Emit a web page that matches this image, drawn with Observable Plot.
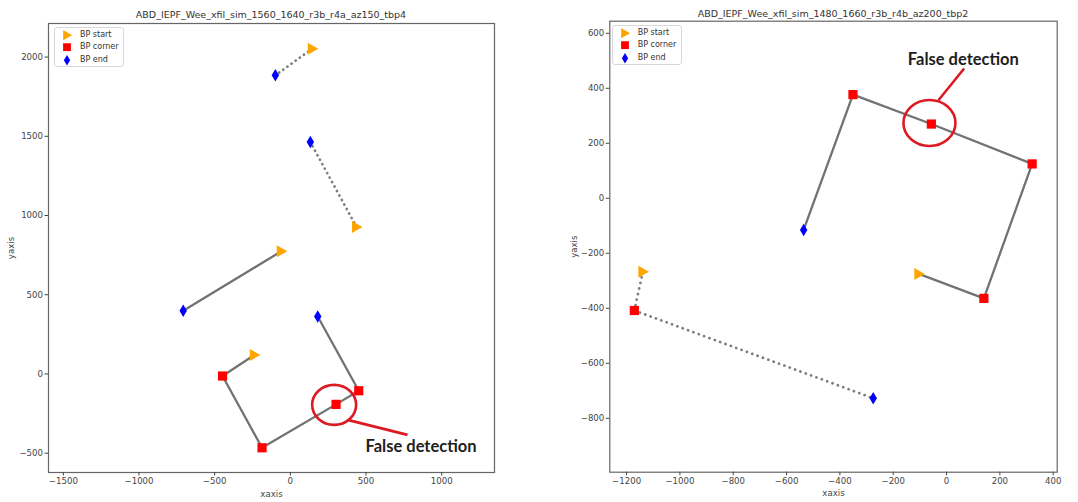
<!DOCTYPE html>
<html>
<head>
<meta charset="utf-8">
<script src="https://cdn.jsdelivr.net/npm/d3@7"></script>
<script src="https://cdn.jsdelivr.net/npm/@observablehq/plot@0.6"></script>
<style>
  body { margin: 0; background: #fff; font-family: "DejaVu Sans", sans-serif; }
  #wrap { position: relative; width: 1078px; height: 502px; overflow: hidden; background: #fff; }
  .panel { position: absolute; top: 0; height: 502px; }
  .title { position: absolute; text-align: center; font-size: 9.5px; color: #333; white-space: nowrap; line-height: 12px; }
  .plot { position: absolute; left: 0; }
  .legend { position: absolute; box-sizing: border-box; border: 1px solid #d8d8d8; border-radius: 3px; background: #fff; padding-top: 1px; }
  .legend .row { position: relative; height: 12.3px; font-size: 8px; color: #333; line-height: 12.3px; white-space: nowrap; }
  .legend svg { position: absolute; top: 0; overflow: visible; }
</style>
</head>
<body>
<div id="wrap"></div>
<script>
// ---------------- Data ----------------
// Left panel
const L_title = "ABD_IEPF_Wee_xfil_sim_1560_1640_r3b_r4a_az150_tbp4";
const L_track = ["A", "A", "B", "B", "C", "C", "D", "D", "D", "D", "D", "D"];
const L_x     = [145, -99, 437, 132, -60, -708, -238, -448, -187, 302, 452, 181];
const L_y     = [2053, 1885, 928, 1464, 774, 399, 120, -13, -466, -192, -106, 363];
const L_role  = ["start", "end", "start", "end", "start", "end", "start", "corner", "corner", "corner", "corner", "end"];
const L_false = [0, 0, 0, 0, 0, 0, 0, 0, 0, 1, 0, 0];
const L_xDomain = [-1598, 1349];
const L_yDomain = [-622, 2212];
const L_xTicks = [-1500, -1000, -500, 0, 500, 1000];
const L_yTicks = [-500, 0, 500, 1000, 1500, 2000];

// Right panel
const R_title = "ABD_IEPF_Wee_xfil_sim_1480_1660_r3b_r4b_az200_tbp2";
const R_track = ["A", "A", "A", "A", "A", "A", "B", "B", "B"];
const R_x     = [-104, 140, 321, -57, -351, -536, -1139, -1171, -275];
const R_y     = [-275, -364, 125, 270, 377, -115, -267, -408, -727];
const R_role  = ["start", "corner", "corner", "corner", "corner", "end", "start", "corner", "end"];
const R_false = [0, 0, 0, 1, 0, 0, 0, 0, 0];
const R_xDomain = [-1263, 415];
const R_yDomain = [-996, 644];
const R_xTicks = [-1200, -1000, -800, -600, -400, -200, 0, 200, 400];
const R_yTicks = [-800, -600, -400, -200, 0, 200, 400, 600];

const roles = ["start", "corner", "end"];
const roleLabels = ["BP start", "BP corner", "BP end"];
const annotationText = "False detection";
const axisLabelX = "xaxis";
const axisLabelY = "yaxis";

// ---------------- Styling / rendering ----------------
const roleColor = {start: "#FFA500", corner: "#FF0000", end: "#0000FF"};
const triRight = {draw(ctx, size) { const r = Math.sqrt(size / Math.PI); ctx.moveTo(r, 0); ctx.lineTo(-r * 0.75, -r); ctx.lineTo(-r * 0.75, r); ctx.closePath(); }};
const squareSym = {draw(ctx, size) { const r = Math.sqrt(size / Math.PI); ctx.moveTo(-r, -r); ctx.lineTo(r, -r); ctx.lineTo(r, r); ctx.lineTo(-r, r); ctx.closePath(); }};
const thinDiamond = {draw(ctx, size) { const r = Math.sqrt(size / Math.PI); ctx.moveTo(0, -r); ctx.lineTo(r * 0.6, 0); ctx.lineTo(0, r); ctx.lineTo(-r * 0.6, 0); ctx.closePath(); }};
const roleSymbol = {start: triRight, corner: squareSym, end: thinDiamond};
const roleR = {start: 6, corner: 4.6, end: 6.2};
const fmt = d => d < 0 ? "\u2212" + Math.abs(d) : String(d);
const annRed = "#dc1a22";

function makePlot(cfg) {
  const rows = cfg.x.map((x, i) => ({track: cfg.track[i], x, y: cfg.y[i], role: cfg.role[i], flag: cfg.flag[i]}));
  const solid = rows.filter(d => !cfg.dotted.includes(d.track));
  const dotted = rows.filter(d => cfg.dotted.includes(d.track));
  const flagged = rows.filter(d => d.flag);
  const c = cfg.callout;
  const calloutLine = (index, scales) => {
    const g = d3.create("svg:g");
    for (const d of flagged) {
      const px = scales.x(d.x), py = scales.y(d.y);
      g.append("ellipse").attr("cx", px + c.ex).attr("cy", py + c.ey).attr("rx", c.rx).attr("ry", c.ry)
        .attr("fill", "none").attr("stroke", annRed).attr("stroke-width", 2.6);
      g.append("line").attr("x1", px + c.l[0]).attr("y1", py + c.l[1]).attr("x2", px + c.l[2]).attr("y2", py + c.l[3])
        .attr("stroke", annRed).attr("stroke-width", 2.6);
    }
    return g.node();
  };
  return Plot.plot({
    width: cfg.width, height: cfg.height,
    marginTop: cfg.m[0], marginRight: cfg.m[1], marginBottom: cfg.m[2], marginLeft: cfg.m[3],
    x: {domain: cfg.xDomain},
    y: {domain: cfg.yDomain},
    style: {fontFamily: "DejaVu Sans, sans-serif", fontSize: "8.6px", color: "#444", background: "transparent", overflow: "visible"},
    marks: [
      Plot.frame({stroke: "#666", strokeWidth: 1.2}),
      Plot.axisX({ticks: cfg.xTicks, tickFormat: fmt, tickSize: 3.5, tickPadding: 2, label: axisLabelX,
        labelAnchor: "center", labelOffset: 24, labelArrow: "none", fontSize: 8.6}),
      Plot.axisY({ticks: cfg.yTicks, tickFormat: fmt, tickSize: 3.5, tickPadding: 2, label: axisLabelY,
        labelAnchor: "center", labelOffset: cfg.yLabelOffset, labelArrow: "none", fontSize: 8.6}),
      Plot.line(solid, {x: "x", y: "y", z: "track", stroke: "#727272", strokeWidth: 2.3}),
      Plot.line(dotted, {x: "x", y: "y", z: "track", stroke: "#7c7c7c", strokeWidth: 2.7, strokeDasharray: cfg.dash, strokeLinecap: "round"}),
      ...roles.map(r => Plot.dot(rows.filter(d => d.role === r), {x: "x", y: "y", symbol: roleSymbol[r], r: roleR[r], fill: roleColor[r]})),
      calloutLine,
      Plot.text(flagged, {x: "x", y: "y", text: () => annotationText, dx: c.tx, dy: c.ty, fontFamily: "Lato, sans-serif",
        fontWeight: "bold", fontSize: 16.5, fill: "#1e1e1e", textAnchor: "middle"})
    ]
  });
}

function makeLegend(parent, left, top) {
  const box = parent.append("div").attr("class", "legend")
    .style("left", left + "px").style("top", top + "px").style("width", "70px").style("height", "40px");
  roles.forEach((r, i) => {
    const row = box.append("div").attr("class", "row");
    const svg = row.append("svg").attr("width", 12).attr("height", 12.3).style("left", "6px");
    svg.append("path").attr("transform", "translate(6,6.15)")
      .attr("d", d3.symbol(roleSymbol[r], Math.PI * Math.pow(roleR[r] * 0.85, 2))())
      .attr("fill", roleColor[r]);
    row.append("span").style("position", "absolute").style("left", "25px").text(roleLabels[i]);
  });
}

const wrap = d3.select("#wrap");

// Left panel
const lp = wrap.append("div").attr("class", "panel").style("left", "0px").style("width", "540px");
lp.append("div").attr("class", "title").style("left", "48px").style("width", "446px").style("top", "8.5px").text(L_title);
const lsvg = makePlot({
  track: L_track, x: L_x, y: L_y, role: L_role, flag: L_false, dotted: ["A", "B"], dash: "0.1,5",
  xDomain: L_xDomain, yDomain: L_yDomain, xTicks: L_xTicks, yTicks: L_yTicks,
  width: 540, height: 484, m: [5, 46, 30, 48], yLabelOffset: 41,
  callout: {ex: -1.4, ey: 1, rx: 22, ry: 20, l: [12, 16, 72, 31], tx: 85, ty: 42}
});
lp.append("div").attr("class", "plot").style("top", "18px").node().appendChild(lsvg);
makeLegend(lp, 54, 27);

// Right panel
const rp = wrap.append("div").attr("class", "panel").style("left", "540px").style("width", "538px");
rp.append("div").attr("class", "title").style("left", "69px").style("width", "448px").style("top", "7.5px").text(R_title);
const rsvg = makePlot({
  track: R_track, x: R_x, y: R_y, role: R_role, flag: R_false, dotted: ["B"], dash: "0.1,5.6",
  xDomain: R_xDomain, yDomain: R_yDomain, xTicks: R_xTicks, yTicks: R_yTicks,
  width: 538, height: 484, m: [2.7, 21.3, 30.3, 69.3], yLabelOffset: 39,
  callout: {ex: -1.4, ey: -0.6, rx: 26, ry: 23, l: [7.6, -23.3, 33.3, -55], tx: 32, ty: -64}
});
rp.append("div").attr("class", "plot").style("top", "18px").node().appendChild(rsvg);
makeLegend(rp, 71.7, 25);
</script>
</body>
</html>
